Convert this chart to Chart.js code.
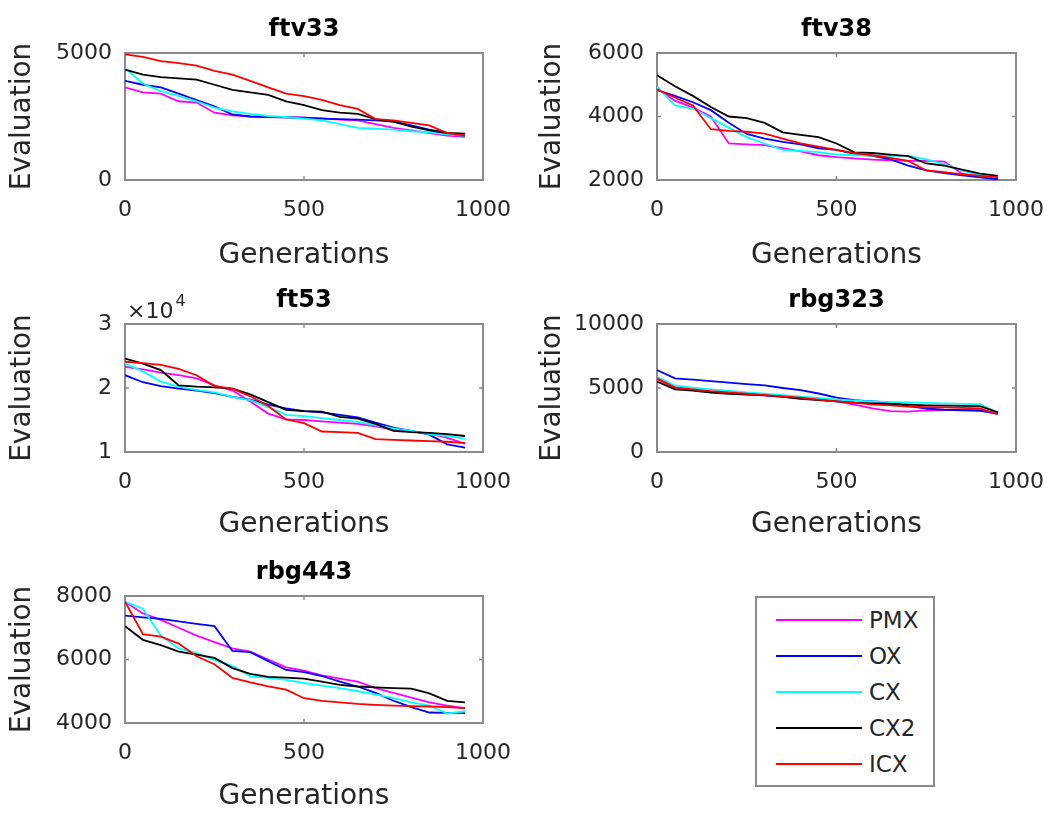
<!DOCTYPE html>
<html>
<head>
<meta charset="utf-8">
<script src="https://cdn.jsdelivr.net/npm/chart.js@4.4.0/dist/chart.umd.min.js"></script>
<style>
  html, body { margin: 0; padding: 0; background: #fff; }
  body { width: 1048px; height: 816px; position: relative; overflow: hidden; font-family: "DejaVu Sans", sans-serif; }
  canvas { position: absolute; }
  #legendBox { position: absolute; left: 755px; top: 596px; width: 180px; height: 191px; border: 2px solid #8a8a8a; box-sizing: border-box; background: #fff; }
  .sw { position: absolute; left: 776px; width: 86px; height: 2px; }
  .lt { position: absolute; left: 869px; font-size: 23px; color: #262626; line-height: 24px; height: 24px; }
</style>
</head>
<body>
<canvas id="c1" width="525" height="270" style="left:0px;top:0px"></canvas>
<canvas id="c2" width="518" height="270" style="left:530px;top:0px"></canvas>
<canvas id="c3" width="525" height="270" style="left:0px;top:270px"></canvas>
<canvas id="c4" width="518" height="270" style="left:530px;top:270px"></canvas>
<canvas id="c5" width="525" height="276" style="left:0px;top:540px"></canvas>
<div id="legendBox"></div>
<div id="legendItems"></div>
<script>
// ---------- data ----------
const generations = [0,50,100,150,200,250,300,350,400,450,500,550,600,650,700,750,800,850,900,950];
const seriesNames = ['PMX','OX','CX','CX2','ICX'];
const seriesColors = ['#ff00ff','#0000ff','#00ffff','#000000','#ff0000'];
const xTickLabels = [0, 500, 1000];

const ftv33_PMX = [3650,3450,3400,3100,3050,2650,2550,2500,2480,2470,2450,2430,2380,2350,2200,2050,1950,1850,1750,1700];
const ftv33_OX  = [3900,3750,3650,3400,3150,2900,2580,2500,2480,2470,2450,2420,2400,2380,2350,2300,2150,1980,1850,1720];
const ftv33_CX  = [4400,3800,3500,3300,3100,2850,2700,2600,2520,2480,2420,2350,2200,2050,2020,1980,1920,1880,1800,1740];
const ftv33_CX2 = [4350,4150,4050,4000,3950,3750,3550,3450,3350,3100,2950,2750,2650,2600,2400,2300,2100,1950,1850,1820];
const ftv33_ICX = [4950,4850,4680,4600,4500,4300,4150,3900,3650,3400,3300,3150,2950,2800,2400,2350,2250,2150,1850,1750];
const ftv33_yTicks = [0, 5000];

const ftv38_PMX = [4880,4500,4280,4000,3150,3120,3100,3000,2900,2780,2720,2680,2640,2620,2600,2600,2580,2200,2120,2050];
const ftv38_OX  = [4830,4650,4450,4200,3800,3450,3300,3200,3120,3000,2950,2820,2760,2650,2450,2300,2220,2150,2080,2020];
const ftv38_CX  = [4950,4350,4250,3950,3650,3350,3150,2950,2920,2880,2800,2780,2770,2760,2760,2650,2500,2300,2150,2090];
const ftv38_CX2 = [5300,4950,4650,4300,4000,3950,3800,3500,3420,3350,3150,2870,2850,2800,2750,2520,2450,2330,2200,2130];
const ftv38_ICX = [4850,4600,4350,3600,3550,3520,3460,3300,3150,3050,2950,2850,2780,2700,2600,2300,2250,2180,2130,2090];
const ftv38_yTicks = [2000, 4000, 6000];

const ft53_PMX = [23300,22900,22400,22000,21500,20400,19600,17900,16000,15100,15000,14800,14600,14400,14000,13500,13200,12900,12200,11300];
const ft53_OX  = [22000,20900,20300,19900,19600,19200,18600,18200,17400,16800,16400,16200,15800,15400,14600,13800,13300,12700,11200,10700];
const ft53_CX  = [23800,22600,21000,20200,19700,19300,18600,18100,17000,15800,15600,15300,15000,14700,14200,13700,13300,12800,12500,12100];
const ft53_CX2 = [24600,23800,22800,20400,20200,20100,19900,19000,17800,16600,16400,16300,15500,15200,14400,13300,13100,13000,12800,12500];
const ft53_ICX = [24100,23900,23600,23000,22000,20300,19900,18700,17200,15100,14500,13200,13100,13000,12000,11900,11800,11700,11600,11400];
const ft53_yTicks = [10000, 20000, 30000];

const rbg323_PMX = [5700,5000,4850,4700,4600,4500,4420,4320,4220,4100,3950,3700,3400,3200,3150,3250,3280,3300,3300,2950];
const rbg323_OX  = [6400,5750,5650,5530,5420,5310,5200,5000,4830,4570,4250,4050,3950,3880,3580,3400,3300,3260,3220,3000];
const rbg323_CX  = [5870,5200,5020,4900,4780,4650,4560,4450,4330,4220,4100,4020,3950,3900,3870,3840,3800,3760,3730,3050];
const rbg323_CX2 = [5500,4900,4800,4650,4550,4480,4420,4300,4150,4050,3950,3850,3800,3750,3700,3650,3620,3600,3580,3100];
const rbg323_ICX = [5750,5050,4900,4750,4650,4550,4450,4350,4250,4100,3950,3850,3700,3650,3550,3500,3480,3450,3400,2950];
const rbg323_yTicks = [0, 5000, 10000];

const rbg443_PMX = [7820,7450,7250,7000,6750,6550,6350,6250,6000,5750,5650,5500,5400,5300,5100,4950,4800,4650,4550,4470];
const rbg443_OX  = [7380,7330,7280,7200,7120,7050,6270,6230,5950,5670,5600,5480,5300,5150,4950,4700,4500,4330,4320,4310];
const rbg443_CX  = [7820,7600,6750,6350,6200,5980,5800,5470,5420,5360,5260,5180,5100,5000,4900,4780,4650,4550,4300,4370];
const rbg443_CX2 = [7050,6620,6450,6250,6150,6050,5730,5550,5450,5430,5400,5300,5200,5150,5120,5100,5080,4930,4700,4650];
const rbg443_ICX = [7820,6800,6720,6500,6100,5850,5420,5280,5150,5050,4780,4700,4650,4600,4570,4550,4530,4520,4500,4470];
const rbg443_yTicks = [4000, 6000, 8000];

// ---------- drawing ----------
const TXT = '#262626';
const FONT = 'DejaVu Sans';

const framePlugin = {
  id: 'frame',
  beforeDatasetsDraw(chart, args, opts) {
    const { ctx, chartArea: a, scales: { x, y } } = chart;
    ctx.save();
    ctx.strokeStyle = '#8a8a8a';
    ctx.lineWidth = 2;
    ctx.strokeRect(a.left, a.top, a.right - a.left, a.bottom - a.top);
    ctx.lineWidth = 1.5;
    ctx.beginPath();
    x.ticks.forEach(t => {
      const px = x.getPixelForValue(t.value);
      ctx.moveTo(px, a.bottom); ctx.lineTo(px, a.bottom - 4);
      ctx.moveTo(px, a.top); ctx.lineTo(px, a.top + 4);
    });
    y.ticks.forEach(t => {
      const py = y.getPixelForValue(t.value);
      ctx.moveTo(a.left, py); ctx.lineTo(a.left + 4, py);
      ctx.moveTo(a.right, py); ctx.lineTo(a.right - 4, py);
    });
    ctx.stroke();
    ctx.restore();
  },
  afterDraw(chart, args, opts) {
    const { ctx, chartArea: a } = chart;
    ctx.save();
    ctx.fillStyle = '#000';
    ctx.font = 'bold 24px "' + FONT + '"';
    ctx.textAlign = 'center';
    ctx.textBaseline = 'middle';
    ctx.fillText(opts.title, (a.left + a.right) / 2, a.top - 23);
    if (opts.exponent) {
      ctx.fillStyle = TXT;
      ctx.textAlign = 'left';
      ctx.textBaseline = 'alphabetic';
      ctx.font = '22px "' + FONT + '"';
      ctx.fillText('\u00d710', a.left + 2, a.top - 6);
      const w = ctx.measureText('\u00d710').width;
      ctx.font = '16px "' + FONT + '"';
      ctx.fillText(opts.exponent, a.left + 4 + w, a.top - 18);
    }
    ctx.restore();
  }
};

function buildPanel(id, title, series, yTicks, layout, tickFmt, exponent) {
  const datasets = seriesNames.map((name, i) => ({
    label: name,
    data: generations.map((g, k) => ({ x: g, y: series[i][k] })),
    borderColor: seriesColors[i],
    backgroundColor: seriesColors[i],
    borderWidth: 1.8,
    pointRadius: 0,
    tension: 0,
    fill: false,
    order: seriesNames.length - i
  }));
  return new Chart(document.getElementById(id), {
    type: 'line',
    data: { datasets },
    options: {
      responsive: false,
      animation: false,
      devicePixelRatio: 1,
      layout: { padding: { top: layout.padTop, right: layout.padRight, left: 0, bottom: 0 } },
      plugins: {
        legend: { display: false },
        title: { display: false },
        tooltip: { enabled: false },
        frame: { title, exponent }
      },
      scales: {
        x: {
          type: 'linear',
          min: xTickLabels[0],
          max: xTickLabels[xTickLabels.length - 1],
          afterBuildTicks: s => { s.ticks = xTickLabels.map(v => ({ value: v })); },
          ticks: { color: TXT, font: { family: FONT, size: 22, lineHeight: 1 }, padding: 19, maxRotation: 0, autoSkip: false, callback: v => String(v) },
          grid: { display: false, drawTicks: false },
          border: { display: false },
          title: { display: true, text: 'Generations', color: TXT, font: { family: FONT, size: 28, lineHeight: 1 }, padding: { top: 0, bottom: layout.xTitlePad } },
          afterFit: s => { s.height = layout.xH; s.paddingLeft = 0; s.paddingRight = 0; }
        },
        y: {
          type: 'linear',
          min: yTicks[0],
          max: yTicks[yTicks.length - 1],
          afterBuildTicks: s => { s.ticks = yTicks.map(v => ({ value: v })); },
          ticks: { color: TXT, font: { family: FONT, size: 22, lineHeight: 1 }, padding: 13, autoSkip: false, callback: tickFmt || (v => String(v)) },
          grid: { display: false, drawTicks: false },
          border: { display: false },
          title: { display: true, text: 'Evaluation', color: TXT, font: { family: FONT, size: 28, lineHeight: 1 }, padding: { top: 9, bottom: 0 } },
          afterFit: s => { s.width = layout.yW; s.paddingTop = 0; s.paddingBottom = 0; }
        }
      }
    },
    plugins: [framePlugin]
  });
}

const leftRow1  = { padTop: 53, padRight: 42, yW: 125, xH: 90, xTitlePad: 0 };
const rightRow1 = { padTop: 53, padRight: 32, yW: 127, xH: 90, xTitlePad: 0 };
const leftRow2  = { padTop: 54, padRight: 42, yW: 125, xH: 88, xTitlePad: 1 };
const rightRow2 = { padTop: 54, padRight: 32, yW: 127, xH: 88, xTitlePad: 1 };
const leftRow3  = { padTop: 56, padRight: 42, yW: 125, xH: 93, xTitlePad: 5 };

buildPanel('c1', 'ftv33', [ftv33_PMX, ftv33_OX, ftv33_CX, ftv33_CX2, ftv33_ICX], ftv33_yTicks, leftRow1);
buildPanel('c2', 'ftv38', [ftv38_PMX, ftv38_OX, ftv38_CX, ftv38_CX2, ftv38_ICX], ftv38_yTicks, rightRow1);
buildPanel('c3', 'ft53', [ft53_PMX, ft53_OX, ft53_CX, ft53_CX2, ft53_ICX], ft53_yTicks, leftRow2, v => String(v / 10000), '4');
buildPanel('c4', 'rbg323', [rbg323_PMX, rbg323_OX, rbg323_CX, rbg323_CX2, rbg323_ICX], rbg323_yTicks, rightRow2);
buildPanel('c5', 'rbg443', [rbg443_PMX, rbg443_OX, rbg443_CX, rbg443_CX2, rbg443_ICX], rbg443_yTicks, leftRow3);

// ---------- legend ----------
const legendY = [620, 656, 692, 728, 764];
const li = document.getElementById('legendItems');
seriesNames.forEach((name, i) => {
  const sw = document.createElement('div');
  sw.className = 'sw';
  sw.style.top = (legendY[i] - 1) + 'px';
  sw.style.background = seriesColors[i];
  li.appendChild(sw);
  const t = document.createElement('div');
  t.className = 'lt';
  t.style.top = (legendY[i] - 12) + 'px';
  t.textContent = name;
  li.appendChild(t);
});
</script>
</body>
</html>
